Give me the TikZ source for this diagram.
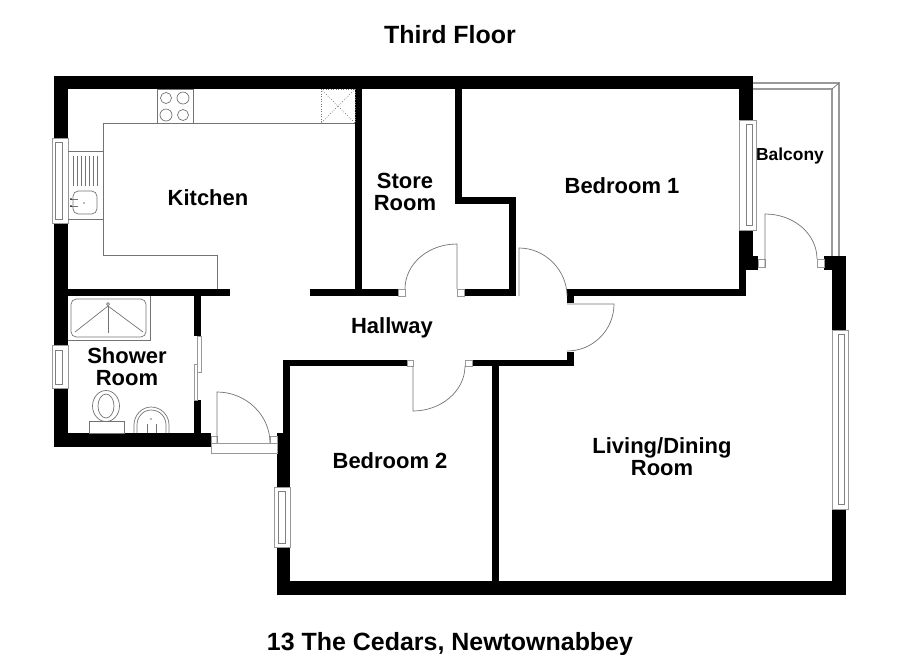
\documentclass[tikz,border=0pt]{standalone}
\usepackage{fontspec}
\setmainfont{Liberation Sans}
\colorlet{fixture color}{black!55}
\tikzset{wall/.style={fill=black}}
\tikzset{fixture/.style={draw=fixture color, line width=0.4pt}}
\tikzset{frame/.style={draw=black!40, fill=white, line width=0.5pt}}
\tikzset{sash/.style={draw=black!50, line width=0.4pt}}
\tikzset{rail/.style={draw=black!40, line width=0.7pt}}
\tikzset{room/.style={font=\bfseries\fontsize{12.5}{12.6}\selectfont, align=center, inner sep=0pt}}
\tikzset{heading/.style={font=\bfseries\fontsize{14.2}{16}\selectfont, inner sep=0pt}}

\begin{document}
\begin{tikzpicture}[x=0.02cm, y=-0.02cm]
    \useasboundingbox (0, 0) rectangle (900, 654);

    % outer walls
    \fill[wall] (54, 76) rectangle (753, 89);
    \fill[wall] (54, 76) rectangle (68, 138);
    \fill[wall] (54, 223) rectangle (68, 345);
    \fill[wall] (54, 388) rectangle (68, 447);
    \fill[wall] (54, 433) rectangle (211, 447);
    \fill[wall] (739, 76) rectangle (753, 120);
    \fill[wall] (739, 230) rectangle (753, 270);
    \fill[wall] (753, 256) rectangle (758, 270);
    \fill[wall] (739, 270) rectangle (746, 296);
    \fill[wall] (824, 256) rectangle (846, 270);
    \fill[wall] (832, 256) rectangle (846, 331);
    \fill[wall] (832, 509) rectangle (846, 595);
    \fill[wall] (277, 581) rectangle (846, 595);
    \fill[wall] (277, 433) rectangle (290, 487);
    \fill[wall] (277, 547) rectangle (290, 595);

    % inner walls
    \fill[wall] (68, 289) rectangle (230, 296);
    \fill[wall] (310, 289) rectangle (398, 296);
    \fill[wall] (464, 289) rectangle (516, 296);
    \fill[wall] (567, 289) rectangle (746, 296);
    \fill[wall] (567, 296) rectangle (574, 303);
    \fill[wall] (355, 89) rectangle (362, 289);
    \fill[wall] (455, 89) rectangle (462, 204);
    \fill[wall] (455, 197) rectangle (516, 204);
    \fill[wall] (509, 197) rectangle (516, 296);
    \fill[wall] (194, 296) rectangle (201, 336);
    \fill[wall] (194, 400) rectangle (201, 433);
    \fill[wall] (283, 360) rectangle (290, 433);
    \fill[wall] (283, 360) rectangle (407, 366);
    \fill[wall] (472, 360) rectangle (574, 366);
    \fill[wall] (567, 352) rectangle (574, 366);
    \fill[wall] (492, 366) rectangle (499, 581);

    % windows
    \draw[frame] (52, 138) rectangle (68, 223);
    \draw[sash] (55, 142) rectangle (62, 219);
    \draw[frame] (52, 345) rectangle (68, 388);
    \draw[sash] (55, 350) rectangle (62, 384);
    \draw[frame] (274, 487) rectangle (290, 547);
    \draw[sash] (278, 491) rectangle (285, 543);
    \draw[frame] (739, 120) rectangle (756, 230);
    \draw[sash] (746, 124) rectangle (752, 225);
    \draw[frame] (832, 330) rectangle (848, 509);
    \draw[sash] (838, 334) rectangle (844, 504);

    % doors
    \draw[frame] (398, 289) rectangle (405, 296);
    \draw[frame] (457, 289) rectangle (464, 296);
    \draw[fixture] (405, 289) .. controls (405, 264) and (428, 244) .. (457, 244) -- (457, 289);
    \draw[fixture] (519, 296) -- (519, 248) .. controls (545, 248) and (567, 270) .. (567, 296);
    \draw[fixture] (567, 304) -- (614, 304) .. controls (614, 330) and (593, 351) .. (567, 351);
    \draw[frame] (407, 360) rectangle (413, 366);
    \draw[frame] (465, 360) rectangle (472, 366);
    \draw[fixture] (413, 366) -- (413, 411) .. controls (441, 411) and (465, 391) .. (465, 366);
    \draw[frame] (211, 436) rectangle (217, 443);
    \draw[frame] (270, 436) rectangle (277, 443);
    \draw[frame] (211, 443) rectangle (277, 453);
    \draw[fixture] (217, 443) -- (217, 392) .. controls (246, 392) and (270, 415) .. (270, 443);
    \draw[frame] (758, 259) rectangle (765, 267);
    \draw[frame] (817, 259) rectangle (824, 267);
    \draw[fixture] (765, 267) -- (765, 214) .. controls (794, 214) and (817, 234) .. (817, 259);
    \draw[frame] (197, 336) rectangle (201, 372);
    \draw[frame] (194, 364) rectangle (197, 400);

    % balcony rail
    \draw[rail] (753, 83) -- (839, 83) -- (839, 256);
    \draw[rail] (753, 89) -- (832, 89) -- (832, 256);
    \draw[fixture] (832, 89) -- (839, 83);

    % kitchen units
    \draw[fixture] (355, 123) -- (103, 123) -- (103, 255) -- (217, 255) -- (217, 289);
    \draw[fixture] (68, 151) -- (103, 151);
    \draw[fixture] (68, 219) -- (103, 219);
    \draw[fixture] (157, 89) rectangle (193, 123);
    \foreach \burnerx/\burnery/\burnerr in {166/98/5.5, 183/98/6, 166/115/6, 183/115/5.5} {
        \draw[fixture] (\burnerx, \burnery) circle[radius=\burnerr];
    }
    \draw[fixture, densely dotted] (321, 89) rectangle (355, 123);
    \draw[fixture, densely dotted] (321, 89) -- (355, 123);
    \draw[fixture, densely dotted] (355, 89) -- (321, 123);
    \foreach \ribx in {73, 77, 81, 85, 89, 93, 97} {
        \draw[fixture] (\ribx, 156) -- (\ribx, 186);
    }
    \draw[fixture, rounded corners=3pt] (73, 191) rectangle (97, 214);
    \draw[fixture] (72, 199) -- (78, 199);
    \draw[fixture] (72, 206) -- (78, 206);
    \fill (71, 199) circle[radius=1];
    \fill (71, 206) circle[radius=1];
    \fill[fixture color] (84, 203) circle[radius=0.8];

    % shower room fittings
    \draw[fixture] (68, 340) -- (150, 340) -- (150, 296);
    \draw[fixture, rounded corners=3pt] (71, 299) rectangle (146, 337);
    \draw[fixture] (108, 304) circle[radius=1.5];
    \draw[fixture] (108, 306) -- (75, 332);
    \draw[fixture] (108, 306) -- (108, 333);
    \draw[fixture] (108, 306) -- (143, 332);
    \draw[fixture] (106, 406) ellipse[x radius=13.5, y radius=15.5];
    \draw[fixture] (106, 406) ellipse[x radius=8, y radius=12];
    \draw[fixture, fill=white] (89, 421) rectangle (124, 433);
    \draw[fixture] (134, 433) -- (134, 425) .. controls (134, 415) and (142, 407) .. (151, 407)
        .. controls (161, 407) and (169, 415) .. (169, 425) -- (169, 433);
    \draw[fixture] (137, 433) -- (137, 425) .. controls (137, 417) and (143, 410) .. (151, 410)
        .. controls (160, 410) and (166, 417) .. (166, 425) -- (166, 433);
    \draw[fixture] (147, 424) -- (147, 433);
    \draw[fixture] (156, 424) -- (156, 433);
    \fill[fixture color] (151, 419) circle[radius=0.8];

    % labels
    \node[heading] (title) at (450, 35) {Third Floor};
    \node[heading] (address) at (450, 644) {13 The Cedars, Newtownabbey};
    \node[room] (kitchen) at (208, 198) {Kitchen};
    \node[room] (store) at (405, 192) {Store\\Room};
    \node[room] (bedroomone) at (622, 186) {Bedroom 1};
    \node[room, font=\bfseries\fontsize{9.9}{12}\selectfont] (balcony) at (790, 156) {Balcony};
    \node[room] (hallway) at (392, 328) {Hallway};
    \node[room] (shower) at (127, 367) {Shower\\Room};
    \node[room] (bedroomtwo) at (390, 461) {Bedroom 2};
    \node[room] (living) at (662, 457) {Living/Dining\\Room};
\end{tikzpicture}
\end{document}
